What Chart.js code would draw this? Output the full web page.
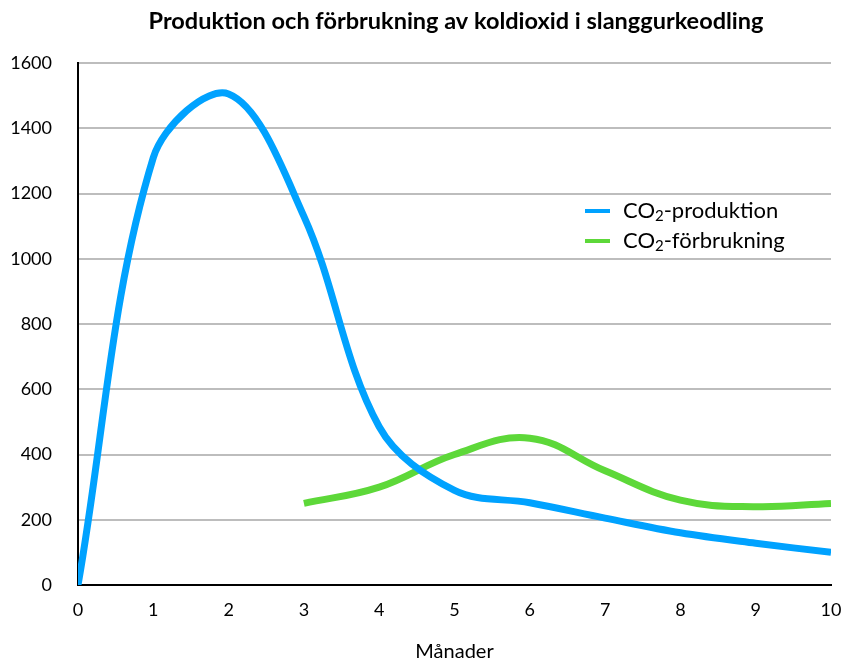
<!DOCTYPE html>
<html lang="sv">
<head>
<meta charset="utf-8">
<title>Produktion och förbrukning av koldioxid i slanggurkeodling</title>
<script src="https://cdn.jsdelivr.net/npm/chart.js@4"></script>
<style>
  html, body { margin: 0; padding: 0; background: #fff; }
  #wrap { width: 844px; height: 659px; position: relative; }
</style>
</head>
<body>
<div id="wrap"><canvas id="c"></canvas></div>
<script>
// Koldioxidproduktion per månad
const prodMonths = [0, 1, 2, 3, 4, 5, 6, 7, 8, 9, 10];
const produktion = [0, 1310, 1505, 1130, 485, 290, 252, 205, 160, 128, 100];

// Koldioxidförbrukning per månad (från månad 3)
const forbrMonths = [3, 4, 5, 6, 7, 8, 9, 10];
const forbrukning = [250, 300, 400, 450, 350, 260, 240, 250];

const chartTitle = 'Produktion och förbrukning av koldioxid i slanggurkeodling';
const xTitle = 'Månader';
const seriesNames = [
  { pre: 'CO', sub: '2', post: '-produktion' },
  { pre: 'CO', sub: '2', post: '-förbrukning' }
];

const FONT = 'Lato, "Open Sans", sans-serif';
const BLUE = '#00a2ff';
const GREEN = '#5dd839';

const toPoints = (xs, ys) => xs.map((x, i) => ({ x: x, y: ys[i] }));

// Title and legend (legend with subscript "2") drawn on the canvas
const decorations = {
  id: 'decorations',
  afterDraw(chart) {
    const ctx = chart.ctx;
    ctx.save();
    ctx.fillStyle = '#000';
    ctx.textBaseline = 'middle';
    ctx.textAlign = 'center';
    ctx.font = 'bold 23.5px ' + FONT;
    ctx.fillText(chartTitle, 456, 21);

    const colors = [BLUE, GREEN];
    const rows = [211, 241];
    ctx.textAlign = 'left';
    seriesNames.forEach((s, i) => {
      const y = rows[i];
      ctx.strokeStyle = colors[i];
      ctx.lineWidth = 4;
      ctx.beginPath();
      ctx.moveTo(585, y);
      ctx.lineTo(610, y);
      ctx.stroke();
      let x = 623;
      ctx.font = '22px ' + FONT;
      ctx.fillText(s.pre, x, y);
      x += ctx.measureText(s.pre).width;
      ctx.font = '15px ' + FONT;
      ctx.fillText(s.sub, x, y + 5);
      x += ctx.measureText(s.sub).width;
      ctx.font = '22px ' + FONT;
      ctx.fillText(s.post, x, y);
    });
    ctx.restore();
  }
};

new Chart(document.getElementById('c'), {
  type: 'line',
  data: {
    datasets: [
      {
        label: 'CO2-produktion',
        data: toPoints(prodMonths, produktion),
        borderColor: BLUE,
        backgroundColor: BLUE,
        borderWidth: 7,
        pointRadius: 0,
        tension: 0.35,
        fill: false
      },
      {
        label: 'CO2-förbrukning',
        data: toPoints(forbrMonths, forbrukning),
        borderColor: GREEN,
        backgroundColor: GREEN,
        borderWidth: 7,
        pointRadius: 0,
        tension: 0.4,
        fill: false
      }
    ]
  },
  options: {
    responsive: true,
    maintainAspectRatio: false,
    animation: false,
    devicePixelRatio: 1,
    layout: { padding: { top: 63, right: 13, left: 0, bottom: 0 } },
    plugins: {
      legend: { display: false },
      title: { display: false },
      tooltip: { enabled: false }
    },
    scales: {
      x: {
        type: 'linear',
        min: 0,
        max: 10,
        afterFit(scale) {
          scale.height = 74;
          scale.paddingLeft = 0;
          scale.paddingRight = 0;
        },
        ticks: {
          stepSize: 1,
          color: '#000',
          padding: 14,
          font: { family: FONT, size: 18 },
          maxRotation: 0
        },
        grid: { display: false, drawTicks: false },
        border: { display: true, color: '#000', width: 2 },
        title: {
          display: true,
          text: xTitle,
          color: '#000',
          font: { family: FONT, size: 20 },
          padding: { top: 0, bottom: -5 }
        }
      },
      y: {
        min: 0,
        max: 1600,
        afterFit(scale) { scale.width = 78; },
        ticks: {
          stepSize: 200,
          color: '#000',
          padding: 26,
          font: { family: FONT, size: 18 },
          callback: (v) => String(v)
        },
        grid: { color: '#bdbdbd', lineWidth: 2, drawTicks: false },
        border: { display: true, color: '#000', width: 2 }
      }
    }
  },
  plugins: [decorations]
});
</script>
</body>
</html>
